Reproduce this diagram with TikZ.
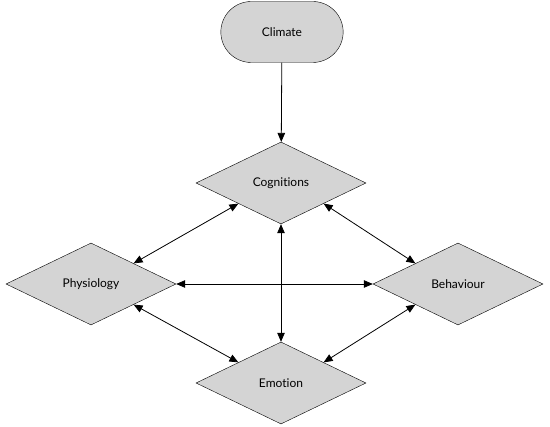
\documentclass[tikz,border=0pt]{standalone}
\usepackage{fontspec}
\setmainfont[Ligatures=NoCommon]{Lato}
\usetikzlibrary{shapes.geometric, shapes.misc, arrows.meta}

\begin{document}
\begin{tikzpicture}[x=1pt, y=-1pt, >={Triangle[length=9pt,width=7.5pt]},
  factor/.style={diamond, draw, fill=black!17, minimum width=170pt, minimum height=82pt,
    inner sep=0pt, font=\fontsize{12}{14}\selectfont},
  link/.style={<->, line width=0.8pt}]
  \useasboundingbox (0,0) rectangle (550,427);
  % Driver at the top
  \node[rounded rectangle, draw, fill=black!17, minimum width=129pt, minimum height=61pt,
    font=\fontsize{12}{14}\selectfont] (climate) at (282,32) {Climate};
  % Four interacting factors
  \node[factor] (cog) at (281,183) {Cognitions};
  \node[factor] (phy) at (91,284) {Physiology};
  \node[factor] (beh) at (458,284) {Behaviour};
  \node[factor] (emo) at (281,383) {Emotion};
  % Climate feeds into cognitions
  \draw[->, line width=0.8pt] (climate) -- (cog);
  % Two-way links between the factors
  \draw[link] (cog.south west) -- (phy.north east);
  \draw[link] (cog.south east) -- (beh.north west);
  \draw[link] (cog) -- (emo);
  \draw[link] (phy) -- (beh);
  \draw[link] (phy.south east) -- (emo.north west);
  \draw[link] (beh.south west) -- (emo.north east);
\end{tikzpicture}
\end{document}
